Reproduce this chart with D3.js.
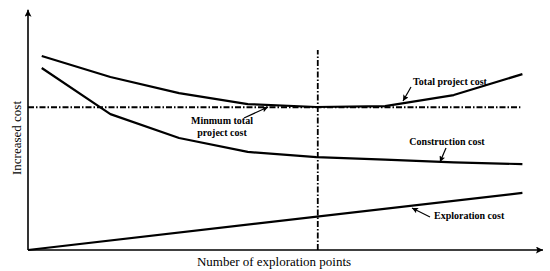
<!DOCTYPE html>
<html><head><meta charset="utf-8">
<script src="https://cdn.jsdelivr.net/npm/d3@7"></script>
<style>body{margin:0;background:#fff}svg{display:block}</style>
</head><body>
<svg id="c" width="550" height="271"></svg>
<script>
const xPoints = [0.2, 1.2, 2.2, 3.2, 4.2, 5.2, 6.2, 7.2];
const totalCost = [79.5, 70.9, 64.3, 59.8, 58.6, 59.0, 63.5, 72.1];
const constructionCost = [74.6, 55.7, 45.9, 40.2, 38.1, 37.0, 35.9, 35.2];
const explorationX = [0, 7.2];
const explorationCost = [0, 23.4];
const minX = [0, 7.17];
const minCost = [58.5, 58.5];
const optimumX = 4.22;
const labels = ["Total project cost", "Construction cost", "Exploration cost", "Minmum total", "project cost"];
const xTitle = "Number of exploration points";
const yTitle = "Increased cost";

const svg = d3.select("#c");
const x = d3.scaleLinear().domain([0, 7.5]).range([28, 543]);
const y = d3.scaleLinear().domain([0, 100]).range([250, 6]);

const defs = svg.append("defs");
defs.append("marker").attr("id","ah").attr("viewBox","0 0 10 10").attr("refX",10).attr("refY",5)
  .attr("markerWidth",9).attr("markerHeight",7).attr("markerUnits","userSpaceOnUse").attr("orient","auto")
  .append("path").attr("d","M0,0L10,5L0,10L2,5Z").attr("fill","#000");
defs.append("marker").attr("id","sa").attr("viewBox","0 0 10 10").attr("refX",10).attr("refY",5)
  .attr("markerWidth",7).attr("markerHeight",6).attr("markerUnits","userSpaceOnUse").attr("orient","auto")
  .append("path").attr("d","M0,0L10,5L0,10L2,5Z").attr("fill","#000");

// axes
svg.append("line").attr("x1",x(0)).attr("y1",y(0)).attr("x2",x(0)).attr("y2",y(98.5))
  .attr("stroke","#000").attr("stroke-width",1.6).attr("marker-end","url(#ah)");
svg.append("line").attr("x1",x(0)).attr("y1",y(0)).attr("x2",x(7.5)).attr("y2",y(0))
  .attr("stroke","#000").attr("stroke-width",1.6).attr("marker-end","url(#ah)");

const line = d3.line().x(d=>x(d[0])).y(d=>y(d[1]));
const dd = "6,2,1.5,2";
svg.append("path").datum(minX.map((v,i)=>[v,minCost[i]])).attr("d",line)
  .attr("fill","none").attr("stroke","#000").attr("stroke-width",1.8).attr("stroke-dasharray",dd);
svg.append("line").attr("x1",x(optimumX)).attr("x2",x(optimumX)).attr("y1",y(0)).attr("y2",y(82))
  .attr("stroke","#000").attr("stroke-width",1.8).attr("stroke-dasharray",dd);

[[xPoints,totalCost],[xPoints,constructionCost],[explorationX,explorationCost]].forEach(([xs,ys])=>{
  svg.append("path").datum(xs.map((v,i)=>[v,ys[i]])).attr("d",line)
    .attr("fill","none").attr("stroke","#000").attr("stroke-width",2.2).attr("stroke-linejoin","round");
});

const font = "'Liberation Serif','Times New Roman',serif";
function lab(t,cx,cy,anchor){
  svg.append("text").attr("x",cx).attr("y",cy).attr("text-anchor",anchor||"middle")
    .attr("font-family",font).attr("font-weight","bold").attr("font-size",10).text(t);
}
function arrow(x1,y1,x2,y2){
  svg.append("line").attr("x1",x1).attr("y1",y1).attr("x2",x2).attr("y2",y2)
    .attr("stroke","#000").attr("stroke-width",1.2).attr("marker-end","url(#sa)");
}
lab(labels[0],450,85); arrow(411,87,403,101);
lab(labels[1],447,145); arrow(446,148,440,162);
lab(labels[2],434,219,"start"); arrow(430,217,412,208);
lab(labels[3],222,124); lab(labels[4],222,136); arrow(244,118,268,107);

svg.append("text").attr("x",274).attr("y",266).attr("text-anchor","middle")
  .attr("font-family",font).attr("font-size",13).text(xTitle);
svg.append("text").attr("transform","translate(21,138) rotate(-90)").attr("text-anchor","middle")
  .attr("font-family",font).attr("font-size",13).text(yTitle);
</script>
</body></html>
